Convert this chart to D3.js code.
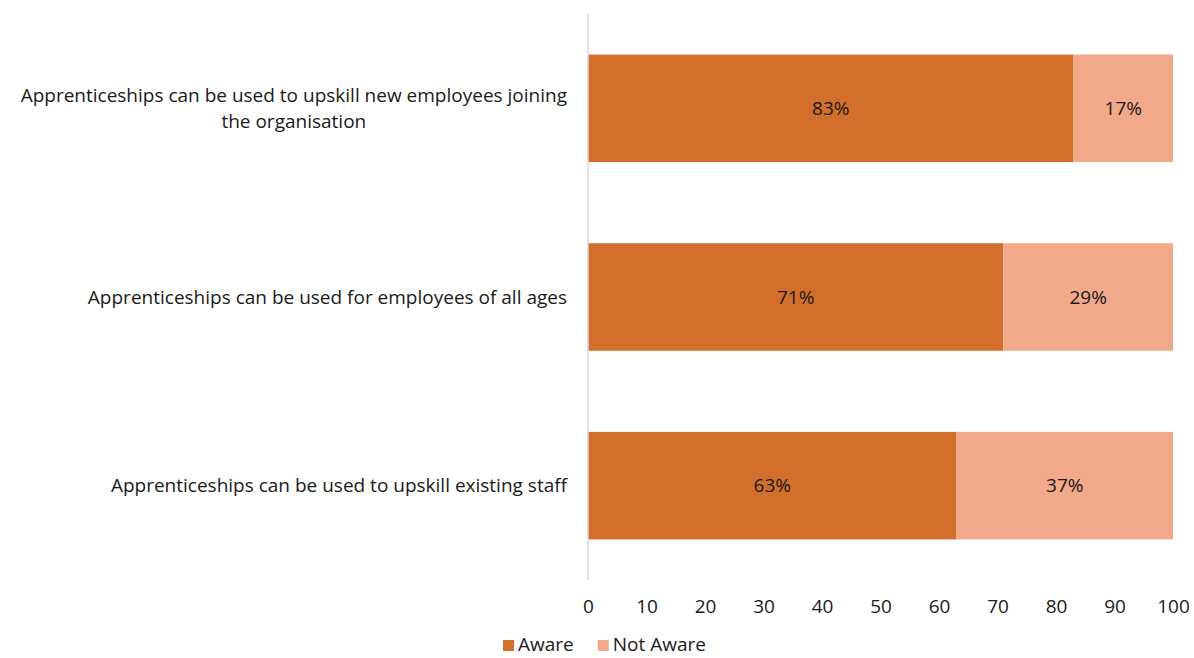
<!DOCTYPE html>
<html>
<head>
<meta charset="utf-8">
<script src="https://cdn.jsdelivr.net/npm/d3@7"></script>
<style>
  body { margin: 0; background: #fff; }
  svg { font-family: "Open Sans", "Noto Sans", sans-serif; }
</style>
</head>
<body>
<div id="chart"></div>
<script>
const categories = [
    'Apprenticeships can be used to upskill new employees joining the organisation',
    'Apprenticeships can be used for employees of all ages',
    'Apprenticeships can be used to upskill existing staff'
];
const aware = [83, 71, 63];
const notAware = [17, 29, 37];
const xTicks = [0, 10, 20, 30, 40, 50, 60, 70, 80, 90, 100];
const seriesNames = ['Aware', 'Not Aware'];
const seriesColors = ['#D36E2C', '#F1A98A'];

const W = 1194, H = 658;
const margin = { top: 14, right: 21, bottom: 78, left: 588 };
const width = W - margin.left - margin.right;
const height = H - margin.top - margin.bottom;
const fs = '19px';

const svg = d3.select('#chart').append('svg')
    .attr('width', W)
    .attr('height', H);
const g = svg.append('g')
    .attr('transform', `translate(${margin.left},${margin.top})`);

const x = d3.scaleLinear().domain([0, 100]).range([0, width]);
const y = d3.scaleBand().domain(categories).range([0, height]).paddingInner(0.43).paddingOuter(0.215);

const rows = categories.map((c, i) => ({ cat: c, vals: [aware[i], notAware[i]] }));

// stacked bars
rows.forEach(r => {
    let acc = 0;
    r.vals.forEach((v, k) => {
        g.append('rect')
            .attr('x', x(acc))
            .attr('y', y(r.cat))
            .attr('width', x(acc + v) - x(acc))
            .attr('height', y.bandwidth())
            .attr('fill', seriesColors[k]);
        g.append('text')
            .attr('x', x(acc + v / 2))
            .attr('y', y(r.cat) + y.bandwidth() / 2)
            .attr('dy', '0.35em')
            .attr('text-anchor', 'middle')
            .style('font-size', fs)
            .attr('fill', '#1a1a1a')
            .text(v + '%');
        acc += v;
    });
});

// vertical axis line
g.append('line')
    .attr('x1', 0).attr('x2', 0)
    .attr('y1', 0).attr('y2', height)
    .attr('stroke', '#d9d9d9')
    .attr('stroke-width', 1.5);

// x axis labels (no line / ticks)
const xAxis = g.append('g')
    .attr('transform', `translate(0,${height})`)
    .call(d3.axisBottom(x).tickValues(xTicks).tickSize(0).tickPadding(20));
xAxis.select('.domain').remove();
xAxis.selectAll('text')
    .style('font-size', fs)
    .style('font-family', '"Open Sans", "Noto Sans", sans-serif')
    .attr('fill', '#1a1a1a');

// category labels, wrapped and right aligned
const labelRight = -21;
const maxW = 565;
categories.forEach(c => {
    const t = g.append('text')
        .style('font-size', fs)
        .attr('fill', '#1a1a1a')
        .attr('text-anchor', 'middle');
    const words = c.split(' ');
    const lines = [];
    let line = [];
    const probe = t.append('tspan');
    words.forEach(w => {
        line.push(w);
        probe.text(line.join(' '));
        if (probe.node().getComputedTextLength() > maxW && line.length > 1) {
            line.pop();
            lines.push(line.join(' '));
            line = [w];
        }
    });
    lines.push(line.join(' '));
    probe.remove();
    const widths = lines.map(l => {
        const s = t.append('tspan').text(l);
        const w = s.node().getComputedTextLength();
        s.remove();
        return w;
    });
    const maxLine = d3.max(widths);
    const cx = labelRight - maxLine / 2;
    const lh = 26;
    const cy = y(c) + y.bandwidth() / 2 - (lines.length - 1) * lh / 2;
    lines.forEach((l, i) => {
        t.append('tspan')
            .attr('x', cx)
            .attr('y', cy + i * lh)
            .attr('dy', '0.35em')
            .text(l);
    });
});

// legend
const legend = svg.append('g').attr('transform', `translate(503,644)`);
let lx = 0;
seriesNames.forEach((name, k) => {
    const item = legend.append('g').attr('transform', `translate(${lx},0)`);
    item.append('rect')
        .attr('x', 0).attr('y', -4)
        .attr('width', 11).attr('height', 11)
        .attr('fill', seriesColors[k]);
    const tx = item.append('text')
        .attr('x', 15)
        .attr('dy', '0.35em')
        .style('font-size', fs)
        .attr('fill', '#1a1a1a')
        .text(name);
    lx += 15 + tx.node().getComputedTextLength() + 24;
});
</script>
</body>
</html>
